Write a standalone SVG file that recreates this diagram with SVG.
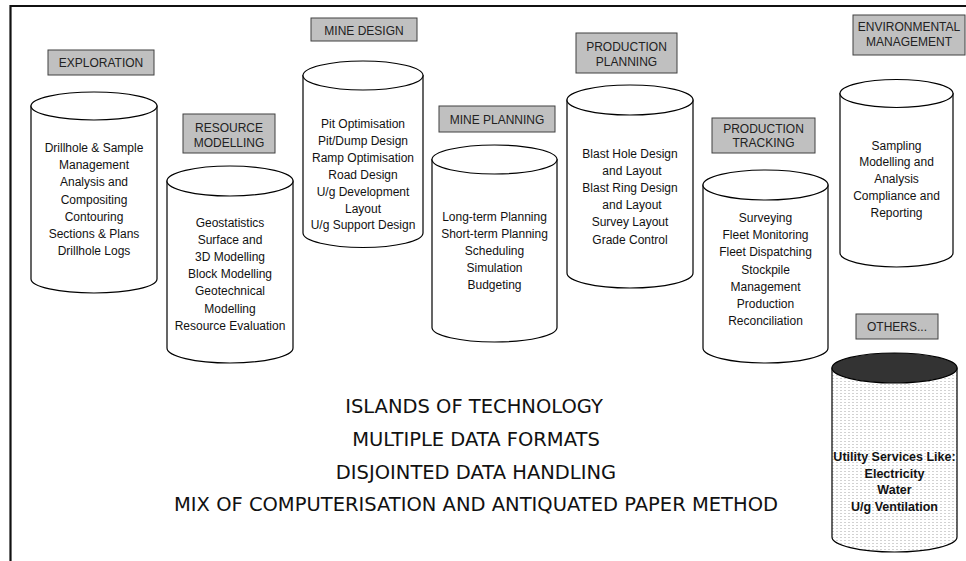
<svg xmlns="http://www.w3.org/2000/svg" width="966" height="561" viewBox="0 0 966 561">
<defs>
<pattern id="dots" width="4" height="3" patternUnits="userSpaceOnUse">
<rect width="4" height="3" fill="#ffffff"/>
<rect x="0" y="0" width="2" height="1" fill="#d2d2d2"/>
</pattern>
</defs>
<style>
.lbl{fill:#c0c0c0;stroke:#404040;stroke-width:1}
.lt{font-family:"Liberation Sans",Arial,sans-serif;font-size:12px;fill:#222;text-anchor:middle}
.cyl{fill:#ffffff;stroke:#000;stroke-width:1.2}
.ct{font-family:"Liberation Sans",Arial,sans-serif;font-size:12px;fill:#111;text-anchor:middle}
.bt{font-family:"Liberation Sans",Arial,sans-serif;font-size:12.5px;font-weight:bold;fill:#111;text-anchor:middle}
.big{font-family:"DejaVu Sans",Verdana,sans-serif;font-size:19.5px;fill:#111;text-anchor:middle}
</style>
<rect width="966" height="561" fill="#ffffff"/>
<g id="frame">
<path d="M10.5,561 V6 H966" fill="none" stroke="#111" stroke-width="2.2"/>
</g>
<g id="connectors"></g>

<g id="exploration">
<rect class="lbl" x="48" y="50" width="106" height="25"/>
<text class="lt" x="101" y="67">EXPLORATION</text>
<path class="cyl" d="M31,106 V279 A63,14 0 0 0 157,279 V106 Z"/>
<ellipse class="cyl" cx="94" cy="106" rx="63" ry="14"/>
<text class="ct" x="94" y="152">Drillhole &amp; Sample</text>
<text class="ct" x="94" y="169.2">Management</text>
<text class="ct" x="94" y="186.4">Analysis and</text>
<text class="ct" x="94" y="203.6">Compositing</text>
<text class="ct" x="94" y="220.8">Contouring</text>
<text class="ct" x="94" y="238">Sections &amp; Plans</text>
<text class="ct" x="94" y="255.2">Drillhole Logs</text>
</g>

<g id="resource-modelling">
<rect class="lbl" x="183" y="114" width="92" height="39"/>
<text class="lt" x="229" y="131.5">RESOURCE</text>
<text class="lt" x="229" y="146.5">MODELLING</text>
<path class="cyl" d="M167,181 V348 A63,15 0 0 0 293,348 V181 Z"/>
<ellipse class="cyl" cx="230" cy="181" rx="63" ry="15"/>
<text class="ct" x="230" y="226.5">Geostatistics</text>
<text class="ct" x="230" y="243.7">Surface and</text>
<text class="ct" x="230" y="260.9">3D Modelling</text>
<text class="ct" x="230" y="278.1">Block Modelling</text>
<text class="ct" x="230" y="295.3">Geotechnical</text>
<text class="ct" x="230" y="312.5">Modelling</text>
<text class="ct" x="230" y="329.7">Resource Evaluation</text>
</g>

<g id="mine-design">
<rect class="lbl" x="311" y="18" width="106" height="23"/>
<text class="lt" x="364" y="34.5">MINE DESIGN</text>
<path class="cyl" d="M303,75.5 V233 A60,14.5 0 0 0 423,233 V75.5 Z"/>
<ellipse class="cyl" cx="363" cy="75.5" rx="60" ry="14.5"/>
<text class="ct" x="363" y="128">Pit Optimisation</text>
<text class="ct" x="363" y="144.9">Pit/Dump Design</text>
<text class="ct" x="363" y="161.8">Ramp Optimisation</text>
<text class="ct" x="363" y="178.7">Road Design</text>
<text class="ct" x="363" y="195.6">U/g Development</text>
<text class="ct" x="363" y="212.5">Layout</text>
<text class="ct" x="363" y="229.4">U/g Support Design</text>
</g>

<g id="mine-planning">
<rect class="lbl" x="439" y="106" width="116" height="26"/>
<text class="lt" x="497" y="123.5">MINE PLANNING</text>
<path class="cyl" d="M432,159.5 V327.5 A62.5,14.5 0 0 0 557,327.5 V159.5 Z"/>
<ellipse class="cyl" cx="494.5" cy="159.5" rx="62.5" ry="14.5"/>
<text class="ct" x="494.5" y="221">Long-term Planning</text>
<text class="ct" x="494.5" y="238">Short-term Planning</text>
<text class="ct" x="494.5" y="255">Scheduling</text>
<text class="ct" x="494.5" y="272">Simulation</text>
<text class="ct" x="494.5" y="289">Budgeting</text>
</g>

<g id="production-planning">
<rect class="lbl" x="576" y="33" width="101" height="40"/>
<text class="lt" x="626.5" y="51">PRODUCTION</text>
<text class="lt" x="626.5" y="66">PLANNING</text>
<path class="cyl" d="M567,100 V273 A63,15 0 0 0 693,273 V100 Z"/>
<ellipse class="cyl" cx="630" cy="100" rx="63" ry="15"/>
<text class="ct" x="630" y="158">Blast Hole Design</text>
<text class="ct" x="632" y="175.1">and Layout</text>
<text class="ct" x="630" y="192.2">Blast Ring Design</text>
<text class="ct" x="632" y="209.3">and Layout</text>
<text class="ct" x="630" y="226.4">Survey Layout</text>
<text class="ct" x="630" y="243.5">Grade Control</text>
</g>

<g id="production-tracking">
<rect class="lbl" x="712" y="118" width="103" height="35"/>
<text class="lt" x="763.5" y="132.5">PRODUCTION</text>
<text class="lt" x="763.5" y="146.5">TRACKING</text>
<path class="cyl" d="M703,185 V348 A62.5,15 0 0 0 828,348 V185 Z"/>
<ellipse class="cyl" cx="765.5" cy="185" rx="62.5" ry="15"/>
<text class="ct" x="765.5" y="222">Surveying</text>
<text class="ct" x="765.5" y="239.2">Fleet Monitoring</text>
<text class="ct" x="765.5" y="256.4">Fleet Dispatching</text>
<text class="ct" x="765.5" y="273.6">Stockpile</text>
<text class="ct" x="765.5" y="290.8">Management</text>
<text class="ct" x="765.5" y="308">Production</text>
<text class="ct" x="765.5" y="325.2">Reconciliation</text>
</g>

<g id="environmental-management">
<rect class="lbl" x="853" y="15" width="112" height="40"/>
<text class="lt" x="909" y="30.5">ENVIRONMENTAL</text>
<text class="lt" x="909" y="45.5">MANAGEMENT</text>
<path class="cyl" d="M840,93.5 V253 A56.5,14 0 0 0 953,253 V93.5 Z"/>
<ellipse class="cyl" cx="896.5" cy="93.5" rx="56.5" ry="14"/>
<text class="ct" x="896.5" y="149.5">Sampling</text>
<text class="ct" x="896.5" y="166.4">Modelling and</text>
<text class="ct" x="896.5" y="183.3">Analysis</text>
<text class="ct" x="896.5" y="200.2">Compliance and</text>
<text class="ct" x="896.5" y="217.1">Reporting</text>
</g>

<g id="others">
<rect class="lbl" x="856" y="314" width="82" height="25"/>
<text class="lt" x="897" y="331">OTHERS...</text>
<path d="M832,368 V537 A62.5,15 0 0 0 957,537 V368 Z" fill="url(#dots)" stroke="#000" stroke-width="1.2"/>
<ellipse cx="894.5" cy="368" rx="62.5" ry="15" fill="#333333" stroke="#000" stroke-width="1.2"/>
<text class="bt" x="894.5" y="461">Utility Services Like:</text>
<text class="bt" x="894.5" y="477.5">Electricity</text>
<text class="bt" x="894.5" y="494">Water</text>
<text class="bt" x="894.5" y="510.5">U/g Ventilation</text>
</g>

<g id="summary">
<text class="big" x="474" y="413">ISLANDS OF TECHNOLOGY</text>
<text class="big" x="476" y="445.5">MULTIPLE DATA FORMATS</text>
<text class="big" x="476" y="478.5">DISJOINTED DATA HANDLING</text>
<text class="big" x="476" y="510.5">MIX OF COMPUTERISATION AND ANTIQUATED PAPER METHOD</text>
</g>
</svg>
